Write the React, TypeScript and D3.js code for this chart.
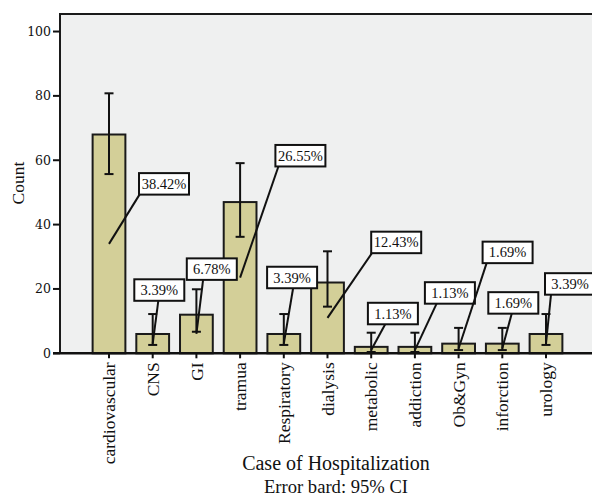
import React from "react";
import * as d3 from "d3";

const categories = ["cardiovascular","CNS","GI","tramua","Respiratory","dialysis","metabolic","addiction","Ob&Gyn","inforction","urology"];
const counts = [68, 6, 12, 47, 6, 22, 2, 2, 3, 3, 6];
const ciLow = [55.7, 2.6, 6.7, 36.2, 2.6, 14.5, 0.4, 0.4, 1.0, 1.0, 2.6];
const ciHigh = [80.8, 12.2, 19.9, 59.1, 12.2, 31.7, 6.4, 6.4, 7.9, 7.9, 12.2];
const percentLabels = ["38.42%","3.39%","6.78%","26.55%","3.39%","12.43%","1.13%","1.13%","1.69%","1.69%","3.39%"];
const yTicks = [0, 20, 40, 60, 80, 100];

// label box layout: offset of box left from bar centre (px), box top in data units, leader attach offset (px)
const boxDx = [30, -18.4, -9.6, 35.3, -16.7, 43.7, -3.3, 10, 24, -14, -1];
const boxTopVal = [56.0, 23.0, 29.5, 64.75, 26.9, 37.8, 15.7, 22.1, 34.7, 19.0, 24.9];
const attachDx = [0.5, 24, 16.3, 3, 26, 0.7, 17.3, 11.7, 4, 23.4, 6];

const W = 592, H = 497;
const plotL = 60, plotT = 14, plotB = 353.3;

export default function App() {
  const x = d3.scaleBand<string>().domain(categories).range([87.15, 567.85]).paddingInner(0.25).paddingOuter(0.125);
  const y = d3.scaleLinear().domain([0, 105.45]).range([plotB, plotT]);
  const bw = x.bandwidth();
  const cx = (c: string) => (x(c) as number) + bw / 2;
  const serif = "'Liberation Serif', serif";
  const boxW = 50, boxH = 21.5;

  return (
    <svg width={W} height={H} style={{ position: "absolute", left: 0, top: 0, background: "#fff" }}>
      <rect x={plotL} y={plotT} width={W - plotL + 10} height={plotB - plotT} fill="#eff0f0" />
      <line x1={plotL} x2={W + 5} y1={plotT} y2={plotT} stroke="#1a1a1a" strokeWidth={2} />
      <line x1={plotL} x2={plotL} y1={plotT - 1} y2={plotB} stroke="#1a1a1a" strokeWidth={2} />

      {yTicks.map((t) => (
        <g key={t}>
          <line x1={53} x2={plotL} y1={y(t)} y2={y(t)} stroke="#111" strokeWidth={2} />
          <text x={51} y={y(t)} dy="0.35em" textAnchor="end" fontFamily="'DejaVu Serif', serif" fontSize={12.5} fill="#111">{t}</text>
        </g>
      ))}

      {categories.map((c, i) => (
        <g key={c}>
          <rect x={x(c)} y={y(counts[i])} width={bw} height={plotB - y(counts[i])} fill="#d3cf98" stroke="#1a1a1a" strokeWidth={2} />
        </g>
      ))}

      <line x1={plotL - 7} x2={W + 5} y1={plotB} y2={plotB} stroke="#111" strokeWidth={2.5} />

      {categories.map((c, i) => {
        const xc = cx(c);
        return (
          <g key={"eb" + c} stroke="#111" strokeWidth={2}>
            <line x1={xc} x2={xc} y1={y(ciLow[i])} y2={y(ciHigh[i])} />
            <line x1={xc - 4.5} x2={xc + 4.5} y1={y(ciLow[i])} y2={y(ciLow[i])} />
            <line x1={xc - 4.5} x2={xc + 4.5} y1={y(ciHigh[i])} y2={y(ciHigh[i])} />
          </g>
        );
      })}

      {categories.map((c, i) => {
        const xc = cx(c);
        const bx = xc + boxDx[i];
        const by = y(boxTopVal[i]);
        return (
          <g key={"lb" + c}>
            <line x1={xc} y1={y(counts[i] / 2)} x2={bx + attachDx[i]} y2={by + boxH} stroke="#111" strokeWidth={2} />
            <rect x={bx} y={by} width={boxW} height={boxH} fill="#fff" stroke="#111" strokeWidth={2} />
            <text x={bx + boxW / 2} y={by + boxH / 2} dy="0.35em" textAnchor="middle" fontFamily={serif} fontSize={14.5} fill="#111">{percentLabels[i]}</text>
          </g>
        );
      })}

      {categories.map((c) => {
        const xc = cx(c);
        return (
          <g key={"xt" + c}>
            <line x1={xc} x2={xc} y1={plotB} y2={plotB + 5} stroke="#111" strokeWidth={2} />
            <text transform={`translate(${xc},${plotB + 9}) rotate(-90)`} dy="0.35em" textAnchor="end" fontFamily={serif} fontSize={17.5} fill="#111">{c}</text>
          </g>
        );
      })}

      <text transform={`translate(17.5,183) rotate(-90)`} dy="0.35em" textAnchor="middle" fontFamily={serif} fontSize={17.5} fill="#111">Count</text>
      <text x={336} y={469.5} textAnchor="middle" fontFamily={serif} fontSize={20} fill="#111">Case of Hospitalization</text>
      <text x={336} y={493} textAnchor="middle" fontFamily={serif} fontSize={18.6} fill="#111">Error bard: 95% CI</text>
    </svg>
  );
}
